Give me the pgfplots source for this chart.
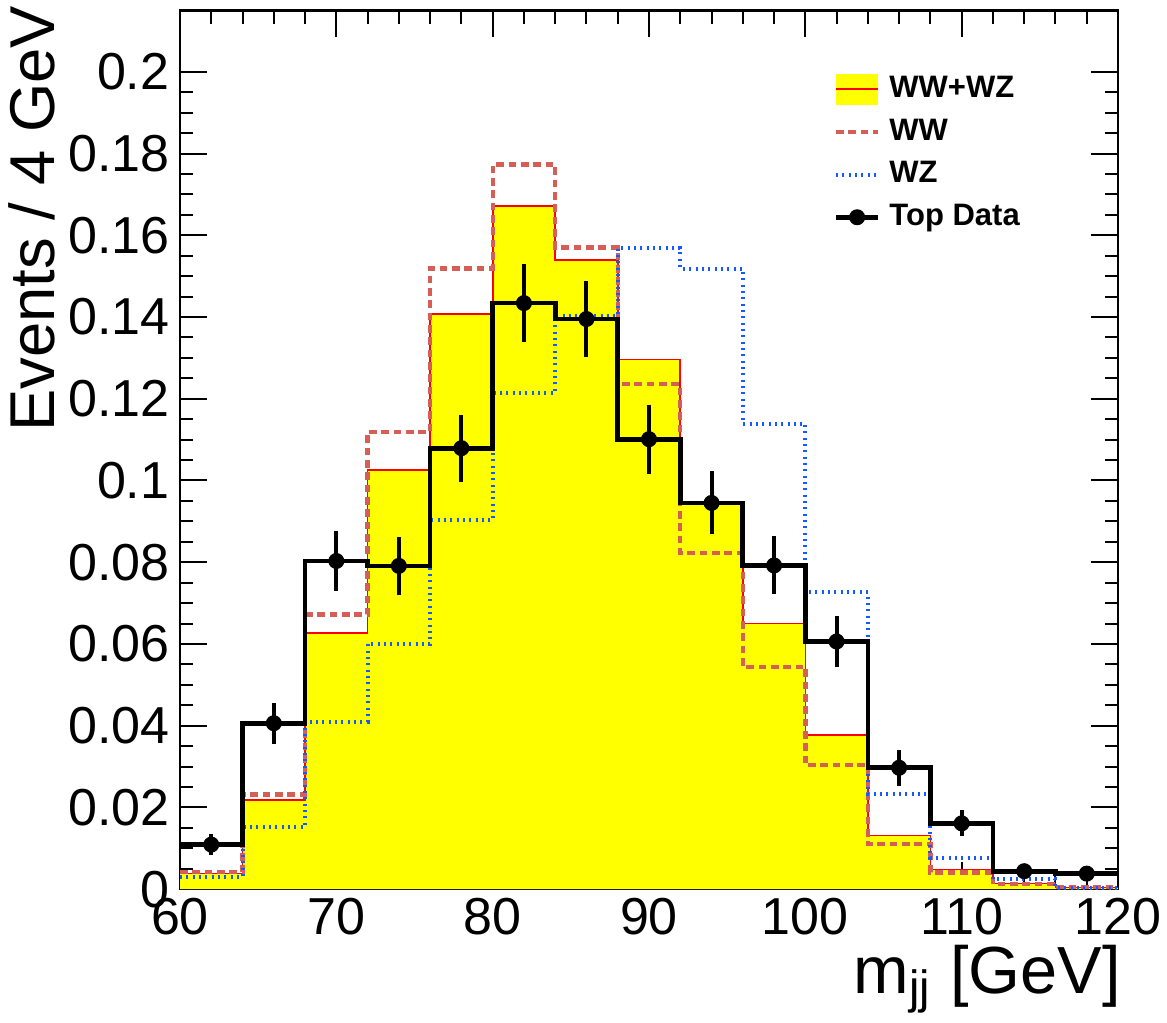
\documentclass[border=0pt]{standalone}
\usepackage{pgfplots}
\pgfplotsset{compat=1.18}
\usepackage{fontspec}
\setmainfont{Liberation Sans}
\definecolor{wwred}{RGB}{213,94,87}
\definecolor{wzblue}{RGB}{20,90,255}
\definecolor{ylw}{RGB}{255,255,0}
\begin{document}
\begin{tikzpicture}
\begin{axis}[
  scale only axis, width=281.4pt, height=263.6pt,
  xmin=60, xmax=120, ymin=0, ymax=0.215,
  xtick={60,70,80,90,100,110,120}, minor x tick num=4,
  ytick={0,0.02,0.04,0.06,0.08,0.1,0.12,0.14,0.16,0.18,0.2}, minor y tick num=3,
  scaled y ticks=false,
  /pgf/number format/assume math mode=true,
  yticklabel style={/pgf/number format/fixed, /pgf/number format/precision=2, inner sep=0pt, xshift=-3pt},
  xticklabel style={inner sep=0pt, yshift=-2.4pt},
  tick label style={font=\fontsize{15.6}{15.6}\selectfont},
  major tick length=8pt, minor tick length=4pt,
  every tick/.style={black, line width=0.6pt},
  axis line style={line width=0.8pt},
  legend cell align=left,
  legend style={at={(axis description cs:0.697,0.928)}, anchor=north west, draw=none, fill=none,
    inner sep=0pt, outer sep=0pt, row sep=3.5pt, column sep=2.7pt,
    font=\fontsize{9.3}{9.3}\selectfont\bfseries,
    nodes={inner sep=0pt}},
]
\addlegendimage{legend image code/.code={\fill[ylw, draw=none] (0pt,-4.65pt) rectangle (12.6pt,4.65pt); \draw[red, line width=0.5pt] (0pt,0pt) -- (12.6pt,0pt);}}
\addlegendentry{WW+WZ}
\addlegendimage{legend image code/.code={\path[draw=none, fill=none] (0pt,-4.65pt) rectangle (12.6pt,4.65pt); \draw[wwred, line width=1.3pt, dash pattern=on 2.3pt off 1.4pt] (0pt,0pt) -- (12.6pt,0pt);}}
\addlegendentry{WW}
\addlegendimage{legend image code/.code={\path[draw=none, fill=none] (0pt,-4.65pt) rectangle (12.6pt,4.65pt); \draw[wzblue, line width=1.2pt, dash pattern=on 0.6pt off 1.3pt] (0pt,0pt) -- (12.6pt,0pt);}}
\addlegendentry{WZ}
\addlegendimage{legend image code/.code={\path[draw=none, fill=none] (0pt,-4.65pt) rectangle (12.6pt,4.65pt); \draw[black, line width=1.4pt] (0pt,0pt) -- (12.6pt,0pt); \fill[black] (6.3pt,0pt) circle (2.2pt);}}
\addlegendentry{Top Data}

% WW+WZ filled
\addplot[fill=ylw, draw=none, const plot, forget plot] coordinates {
 (60,0.0038) (64,0.0218) (68,0.0626) (72,0.1026) (76,0.1408) (80,0.1671) (84,0.1539) (88,0.1296)
 (92,0.0945) (96,0.0650) (100,0.0378) (104,0.0131) (108,0.0048) (112,0.0014) (116,0.0004) (120,0.0004)} \closedcycle;
\addplot[red, line width=0.5pt, const plot, forget plot] coordinates {
 (60,0.0038) (64,0.0218) (68,0.0626) (72,0.1026) (76,0.1408) (80,0.1671) (84,0.1539) (88,0.1296)
 (92,0.0945) (96,0.0650) (100,0.0378) (104,0.0131) (108,0.0048) (112,0.0014) (116,0.0004) (120,0.0004)};
% WW
\addplot[wwred, line width=1.3pt, dash pattern=on 2.3pt off 1.4pt, const plot, forget plot] coordinates {
 (60,0.0042) (64,0.0232) (68,0.0672) (72,0.1119) (76,0.1519) (80,0.1773) (84,0.1570) (88,0.1236)
 (92,0.0822) (96,0.0544) (100,0.0303) (104,0.0110) (108,0.0041) (112,0.0012) (116,0.0005) (120,0.0005)};
% WZ
\addplot[wzblue, line width=1.2pt, dash pattern=on 0.6pt off 1.3pt, const plot, forget plot] coordinates {
 (60,0.0030) (64,0.0153) (68,0.0410) (72,0.0600) (76,0.0903) (80,0.1215) (84,0.1403) (88,0.1569)
 (92,0.1518) (96,0.1139) (100,0.0726) (104,0.0234) (108,0.0076) (112,0.0024) (116,0.0003) (120,0.0003)};
% Top data histogram
\addplot[black, line width=1.4pt, const plot, forget plot] coordinates {
 (60,0.0109) (64,0.0406) (68,0.0803) (72,0.0791) (76,0.1079) (80,0.1434) (84,0.1395) (88,0.1101)
 (92,0.0945) (96,0.0792) (100,0.0606) (104,0.0297) (108,0.0161) (112,0.0044) (116,0.0038) (120,0.0038)};
% Top data points
\addplot[black, only marks, mark=*, mark size=2.2pt, forget plot,
  error bars/.cd, y dir=both, y explicit, error mark=none,
  error bar style={line width=1.2pt, black}] coordinates {
 (62,0.0109) +- (0,0.0026)
 (66,0.0406) +- (0,0.0050)
 (70,0.0803) +- (0,0.0073)
 (74,0.0791) +- (0,0.0071)
 (78,0.1079) +- (0,0.0082)
 (82,0.1434) +- (0,0.0096)
 (86,0.1395) +- (0,0.0094)
 (90,0.1101) +- (0,0.0084)
 (94,0.0945) +- (0,0.0077)
 (98,0.0792) +- (0,0.0071)
 (102,0.0606) +- (0,0.0062)
 (106,0.0297) +- (0,0.0044)
 (110,0.0161) +- (0,0.0032)
 (114,0.0044) +- (0,0.0017)
 (118,0.0038) +- (0,0.0016)};
\end{axis}
\node[rotate=90, anchor=base east, inner sep=0pt, font=\fontsize{19}{19}\selectfont]
  at ([xshift=-37.5pt, yshift=1.6pt]current axis.north west) {Events / 4 GeV};
\node[anchor=base east, inner sep=0pt, font=\fontsize{20}{20}\selectfont]
  at ([xshift=1pt, yshift=-31.2pt]current axis.south east) {m\textsubscript{jj} [GeV]};
\pgfresetboundingbox
\useasboundingbox (-54pt,-39.9pt) rectangle (296.1pt,266.75pt);
\end{tikzpicture}
\end{document}
